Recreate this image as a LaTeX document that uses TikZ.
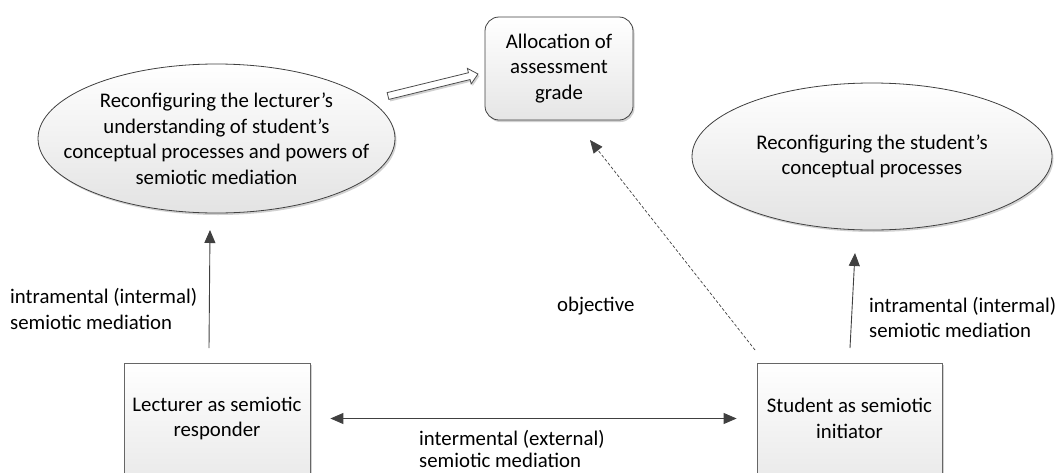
\documentclass[tikz,border=0pt]{standalone}
\usepackage{fontspec}
\setmainfont{Carlito}
\usetikzlibrary{arrows.meta,shadows,calc,shapes.geometric}
\begin{document}
\begin{tikzpicture}[x=1pt,y=-1pt,
  font=\fontsize{20.8}{25.5}\selectfont,
  every node/.style={inner sep=0pt},
  softshadow/.style={drop shadow={shadow xshift=1.5pt,shadow yshift=-2pt,opacity=0.18,fill=black}},
  bubble/.style={ellipse, draw=black!75, line width=0.8pt, top color=white, bottom color=black!11, softshadow},
  inbubble/.style={align=center, font=\fontsize{20.8}{25.5}\selectfont},
  card/.style={rectangle, draw=black!60, line width=0.8pt, top color=white, bottom color=black!8, softshadow, align=center},
  goal/.style={card, draw=black!75, rounded corners=14pt, bottom color=black!10},
  link/.style={draw=black!75, line width=0.9pt, -{Triangle[length=13pt,width=11pt]}},
  dualink/.style={draw=black!75, line width=0.9pt, {Triangle[length=13pt,width=11pt]}-{Triangle[length=13pt,width=11pt]}},
  hint/.style={draw=black!75, line width=0.7pt, dash pattern=on 3pt off 2pt, -{Triangle[length=13pt,width=11pt]}},
  note/.style={anchor=west, align=left}]
\useasboundingbox (0,0) rectangle (1061,472);

% ellipses: fixed outline, text set as a centred label
\node[bubble, minimum width=357pt, minimum height=149pt,
      label={[inbubble]center:Reconfiguring the lecturer’s\\understanding of student’s\\conceptual processes and powers of\\semiotic mediation}]
  (lect) at (216.5,138.5) {};
\node[bubble, minimum width=360pt, minimum height=147pt,
      label={[inbubble]center:Reconfiguring the student’s\\conceptual processes}]
  (stud) at (872,156.5) {};

% boxes
\node[goal, minimum width=148pt, minimum height=103pt] (grade) at (559,68.5)
  {Allocation of\\assessment\\grade};
\node[card, minimum width=186pt, minimum height=111pt] (resp) at (217,418.5)
  {Lecturer as semiotic\\responder};
\node[card, minimum width=185pt, minimum height=111pt] (init) at (849.5,418.5)
  {Student as semiotic\\initiator};

% connector end points
\coordinate (lu0) at (209,348);
\coordinate (lu1) at (210,230);
\coordinate (ru0) at (850,348);
\coordinate (ru1) at (855,253);
\coordinate (ob0) at (755,350);
\coordinate (ob1) at (590,140);
\coordinate (hs) at (388,96);
\coordinate (ht) at (478,74);
\coordinate (hn) at ($(ht)!9pt!(hs)$);

% connectors
\draw[dualink] ($(resp.east)+(20,0)$) -- ($(init.west)+(-20,0)$);
\draw[link] (lu0) -- (lu1);
\draw[link] (ru0) -- (ru1);
\draw[hint] (ob0) -- (ob1);

% hollow block arrow from the lecturer's ellipse to the grade
\draw[draw=black!70, line width=0.8pt, fill=white, softshadow]
  ($(hs)!3.5pt!90:(ht)$) -- ($(hn)!3.5pt!90:(ht)$) -- ($(hn)!8pt!90:(ht)$) -- (ht)
  -- ($(hn)!8pt!-90:(ht)$) -- ($(hn)!3.5pt!-90:(ht)$) -- ($(hs)!3.5pt!-90:(ht)$) -- cycle;

% labels
\node[note] (lbl1) at (10,309) {intramental (intermal)\\semiotic mediation};
\node[note] (lbl2) at (869,317.5) {intramental (intermal)\\semiotic mediation};
\node[note] (lbl3) at (557,306) {objective};
\node[note] (lbl4) at (419,449) {intermental (external)\\[-4pt]semiotic mediation};
\end{tikzpicture}
\end{document}
